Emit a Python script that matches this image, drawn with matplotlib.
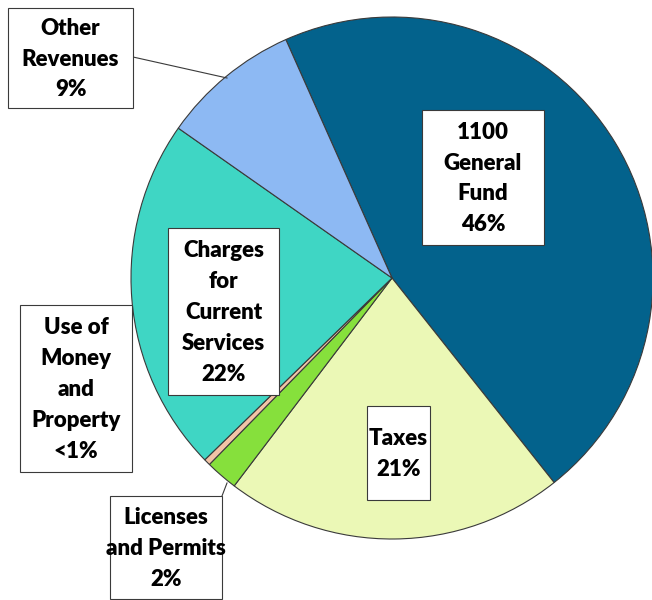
import matplotlib
matplotlib.use("Agg")
from matplotlib import pyplot as plt
from matplotlib.patches import Rectangle

# slice data (clockwise from the top)
categories = ["1100\nGeneral\nFund", "Taxes", "Licenses\nand Permits", "Use of\nMoney\nand\nProperty",
              "Charges\nfor\nCurrent\nServices", "Other\nRevenues"]
shares = [46, 21, 2, 0.4, 22, 8.6]
pct_labels = ["46%", "21%", "2%", "<1%", "22%", "9%"]
colors = ["#03628C", "#EBF8B6", "#86E03C", "#F2C4A6", "#3FD6C4", "#8DB9F3"]

# label boxes: left, top, right, bottom in pixels (y measured from top)
boxes = [(422, 110, 544, 245), (367, 406, 430, 500), (110, 496, 222, 599),
         (20, 305, 132, 472), (168, 228, 279, 395), (8, 8, 133, 108)]

W, H = 652, 600
fig = plt.figure(figsize=(6.52, 6.0), dpi=100)
ax = fig.add_axes([0, 0, 1, 1])

# pie
ax.pie(shares, colors=colors, startangle=114, counterclock=False,
       center=(392, H - 278), radius=261,
       wedgeprops=dict(edgecolor="#3a3a3a", linewidth=0.8))
ax.set_xlim(0, W)
ax.set_ylim(0, H)
ax.set_aspect("equal")
ax.axis("off")

# leader lines
ax.plot([133, 227], [H - 57, H - 78], color="#3a3a3a", lw=0.8)
ax.plot([227, 222], [H - 483, H - 496], color="#3a3a3a", lw=0.8)

# label boxes
for (l, t, r, b), name, pct in zip(boxes, categories, pct_labels):
    ax.add_patch(Rectangle((l, H - b), r - l, b - t, facecolor="white",
                           edgecolor="#3a3a3a", lw=0.8, zorder=3))
    ax.text((l + r) / 2, H - (t + b) / 2 - 1, name + "\n" + pct, ha="center", va="center",
            fontsize=16, fontweight="heavy", family="Lato", linespacing=1.58, zorder=4)

plt.savefig("out.png", dpi=100)
